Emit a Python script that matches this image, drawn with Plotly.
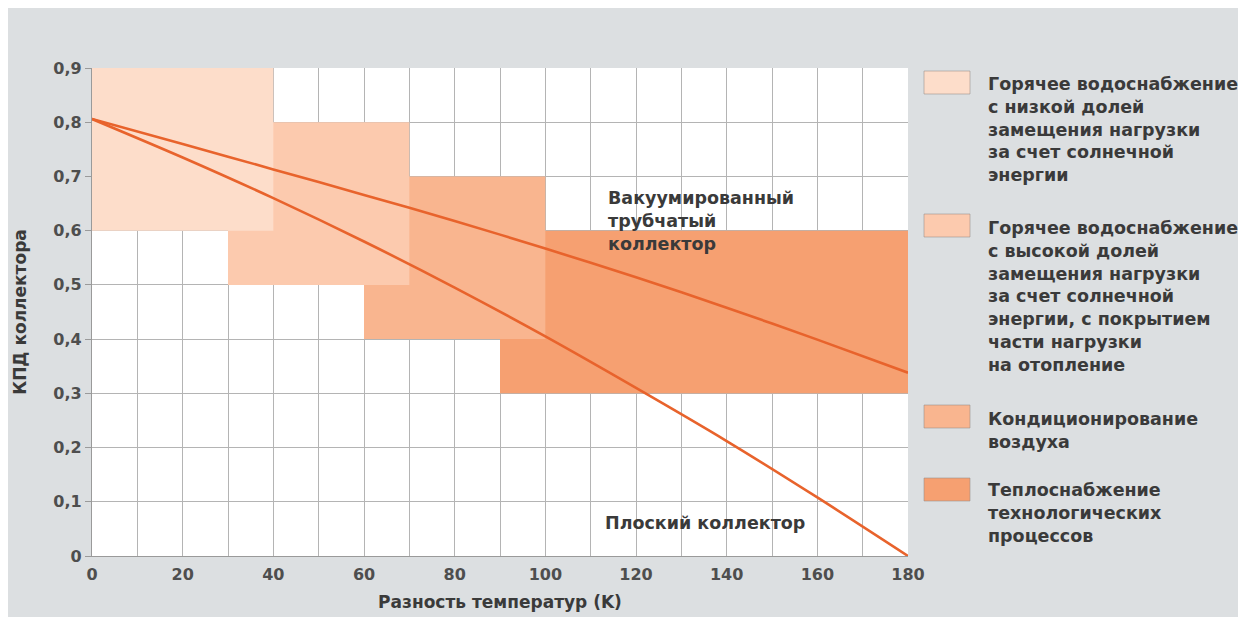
import plotly.graph_objects as go

# ---------------- data ----------------
delta_t = [0, 20, 40, 60, 80, 100, 120, 140, 160, 180]
eff_vacuum = [0.806, 0.760, 0.713, 0.666, 0.618, 0.567, 0.514, 0.458, 0.399, 0.338]
eff_flat = [0.806, 0.735, 0.660, 0.580, 0.495, 0.405, 0.310, 0.212, 0.108, 0.0]

region_names = [
    "Горячее водоснабжение<br>с низкой долей<br>замещения нагрузки<br>за счет солнечной<br>энергии",
    "Горячее водоснабжение<br>с высокой долей<br>замещения нагрузки<br>за счет солнечной<br>энергии, с покрытием<br>части нагрузки<br>на отопление",
    "Кондиционирование<br>воздуха",
    "Теплоснабжение<br>технологических<br>процессов",
]
region_x0 = [0, 30, 60, 90]
region_x1 = [40, 70, 100, 180]
region_y0 = [0.6, 0.5, 0.4, 0.3]
region_y1 = [0.9, 0.8, 0.7, 0.6]

x_tick_vals = [0, 20, 40, 60, 80, 100, 120, 140, 160, 180]
x_tick_text = ["0", "20", "40", "60", "80", "100", "120", "140", "160", "180"]
y_tick_vals = [0, 0.1, 0.2, 0.3, 0.4, 0.5, 0.6, 0.7, 0.8, 0.9]
y_tick_text = ["0", "0,1", "0,2", "0,3", "0,4", "0,5", "0,6", "0,7", "0,8", "0,9"]

label_vacuum = "Вакуумированный<br>трубчатый<br>коллектор"
label_flat = "Плоский коллектор"
x_title = "Разность температур (K)"
y_title = "КПД коллектора"

# ---------------- style ----------------
region_colors = ["#fdddca", "#fccaae", "#f9b58f", "#f6a071"]
line_color = "#e8632c"
bg_gray = "#dcdfe1"
grid_color = "#b4b4b4"
text_color = "#3a3a3a"
FONT = "DejaVu Sans"

fig = go.Figure()

# regions (darkest first, lighter ones on top)
for i in reversed(range(len(region_names))):
    xs = [region_x0[i], region_x1[i], region_x1[i], region_x0[i], region_x0[i]]
    ys = [region_y0[i], region_y0[i], region_y1[i], region_y1[i], region_y0[i]]
    fig.add_trace(go.Scatter(
        x=xs, y=ys, mode="lines", fill="toself",
        fillcolor=region_colors[i], line=dict(width=0, color=region_colors[i]),
        name=region_names[i], showlegend=False, hoverinfo="skip",
    ))

for ys in (eff_vacuum, eff_flat):
    fig.add_trace(go.Scatter(
        x=delta_t, y=ys, mode="lines",
        line=dict(color=line_color, width=2.6, shape="spline", smoothing=0.8),
        showlegend=False, cliponaxis=False,
    ))

fig.add_annotation(x=113.4, y=0.682, xref="x", yref="y", text=label_vacuum,
                   showarrow=False, xanchor="left", yanchor="top", align="left",
                   font=dict(family=FONT, size=17.5, color=text_color, weight="bold"))
fig.add_annotation(x=112.8, y=0.060, xref="x", yref="y", text=label_flat,
                   showarrow=False, xanchor="left", yanchor="middle", align="left",
                   font=dict(family=FONT, size=17.5, color=text_color, weight="bold"))

# custom legend (figure pixel positions converted to paper coordinates)
PL, PT, PW, PH = 84, 60, 816, 488
def px_x(p):
    return (p - PL) / PW
def px_y(p):
    return (PT + PH - p) / PH

swatch_tops = [63, 206, 397, 470]
text_tops = [64, 208, 399, 470]
for i, name in enumerate(region_names):
    fig.add_shape(type="rect", xref="paper", yref="paper",
                  x0=px_x(916), x1=px_x(962), y0=px_y(swatch_tops[i] + 23), y1=px_y(swatch_tops[i]),
                  fillcolor=region_colors[i], line=dict(color="rgba(150,140,135,0.55)", width=1))
    fig.add_annotation(x=px_x(978), y=px_y(text_tops[i]), xref="paper", yref="paper",
                       text=name, showarrow=False, xanchor="left", yanchor="top", align="left",
                       font=dict(family=FONT, size=17.5, color=text_color, weight="bold"))

fig.update_xaxes(
    range=[0, 180], tickvals=x_tick_vals, ticktext=x_tick_text,
    showgrid=True, gridcolor=grid_color, gridwidth=1.2,
    minor=dict(tick0=0, dtick=10, showgrid=True, gridcolor=grid_color, gridwidth=1.2),
    showline=True, linecolor="#9a9a9a", linewidth=1.2, zeroline=False,
    ticks="", ticklabelstandoff=4,
    tickfont=dict(family=FONT, size=16, color="#4e4e4e", weight="bold"),
    title=dict(text=x_title, standoff=12,
               font=dict(family=FONT, size=17, color=text_color, weight="bold")),
)
fig.update_yaxes(
    range=[0, 0.9], tickvals=y_tick_vals, ticktext=y_tick_text,
    showgrid=True, gridcolor=grid_color, gridwidth=1.2,
    showline=True, linecolor="#9a9a9a", linewidth=1.2, zeroline=False,
    ticks="outside", ticklen=6, tickcolor="#9a9a9a", tickwidth=1,
    tickfont=dict(family=FONT, size=16, color="#4e4e4e", weight="bold"),
    title=dict(text=y_title, standoff=22,
               font=dict(family=FONT, size=17, color=text_color, weight="bold")),
)

fig.update_layout(
    width=1246, height=617,
    margin=dict(l=PL, r=1246 - PL - PW, t=PT, b=617 - PT - PH),
    paper_bgcolor=bg_gray, plot_bgcolor="white",
    showlegend=False,
)

fig.write_html("out.html")
